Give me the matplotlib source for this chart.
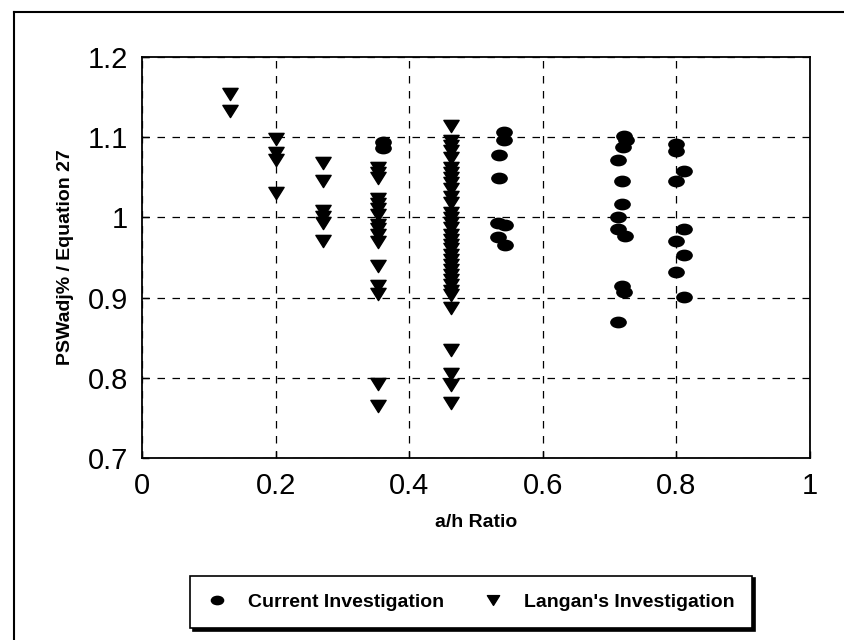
import numpy as np
import matplotlib
matplotlib.use('Agg')
import matplotlib.pyplot as plt
from matplotlib.path import Path
from matplotlib.transforms import Affine2D
from matplotlib.ticker import FuncFormatter
from matplotlib.lines import Line2D

plt.rcParams['font.family'] = ['Liberation Sans', 'DejaVu Sans']

# Langan's test series (a/h ratio, PSWadj% / Eq. 27)
langan_x = ([0.131] * 2 + [0.200] * 4 + [0.271] * 6 + [0.353] * 16
            + [0.462] * 34)
langan_y = [1.154, 1.133,
            1.098, 1.080, 1.071, 1.030,
            1.068, 1.045, 1.008, 1.000, 0.993, 0.970,
            1.062, 1.055, 1.049, 1.023, 1.017, 1.010, 1.003, 0.991,
            0.985, 0.978, 0.969, 0.939, 0.914, 0.904, 0.792, 0.765,
            1.114, 1.095, 1.089, 1.083, 1.074, 1.062, 1.055, 1.049,
            1.043, 1.035, 1.026, 1.018, 1.005, 0.999, 0.993, 0.987,
            0.978, 0.972, 0.966, 0.960, 0.953, 0.947, 0.941, 0.935,
            0.928, 0.922, 0.916, 0.908, 0.903, 0.887, 0.835, 0.805,
            0.791, 0.768]

# current test series
current_x = [0.361, 0.361,
             0.542, 0.542, 0.534, 0.534, 0.533, 0.544, 0.533, 0.544,
             0.721, 0.724, 0.720, 0.713, 0.718, 0.718, 0.713, 0.713,
             0.723, 0.718, 0.722, 0.713,
             0.800, 0.800, 0.811, 0.800, 0.811, 0.800, 0.811, 0.800,
             0.811]
current_y = [1.094, 1.086,
             1.106, 1.096, 1.078, 1.049, 0.993, 0.990, 0.976, 0.965,
             1.101, 1.096, 1.088, 1.071, 1.046, 1.017, 1.000, 0.985,
             0.977, 0.915, 0.907, 0.869,
             1.092, 1.083, 1.058, 1.045, 0.985, 0.970, 0.953, 0.932,
             0.901]

x_ticks = [0, 0.2, 0.4, 0.6, 0.8, 1.0]
y_ticks = [0.7, 0.8, 0.9, 1.0, 1.1, 1.2]

# flattened markers, wider than tall
dot = Path.unit_circle().transformed(Affine2D().scale(1.0, 0.68))
tri = Path([(-1, 0.8), (1, 0.8), (0, -0.8), (-1, 0.8)],
           [Path.MOVETO, Path.LINETO, Path.LINETO, Path.CLOSEPOLY])

W, H = 844, 640
fig = plt.figure(figsize=(W / 100, H / 100), dpi=100)
ax = fig.add_axes([142 / W, 1 - 458 / H, (810 - 142) / W, (458 - 57) / H])

ax.plot(current_x, current_y, linestyle='none', marker=dot, markersize=11,
        color='black', label='Current Investigation', zorder=3)
ax.plot(langan_x, langan_y, linestyle='none', marker=tri, markersize=11,
        color='black', label="Langan's Investigation", zorder=3)

ax.set_xlim(0, 1)
ax.set_ylim(0.7, 1.2)
ax.set_xticks(x_ticks)
ax.set_yticks(y_ticks)
fmt = FuncFormatter(lambda v, p: '%g' % round(v, 2))
ax.xaxis.set_major_formatter(fmt)
ax.yaxis.set_major_formatter(fmt)
ax.tick_params(direction='in', length=5, width=1, labelsize=21, pad=10)
ax.grid(True, color='black', linestyle=(0, (6, 6)), linewidth=0.9)
for s in ax.spines.values():
    s.set_linewidth(1.3)

ax.set_xlabel('a/h Ratio', fontsize=14, fontweight='bold', labelpad=10)
ax.set_ylabel('PSWadj% / Equation 27', fontsize=14, fontweight='bold',
              labelpad=10)

leg = fig.legend(loc='center', bbox_to_anchor=(471 / W, 1 - 602 / H), ncol=2,
                 fontsize=14, prop={'weight': 'bold', 'size': 14},
                 frameon=True, fancybox=False, edgecolor='black',
                 framealpha=1, shadow={'color': 'black', 'alpha': 1},
                 borderpad=0.9, handlelength=1.0, handletextpad=1.1,
                 columnspacing=2.0, markerscale=0.8, numpoints=1)
leg.get_frame().set_linewidth(1.2)

# outer frame of the figure
fig.add_artist(Line2D([14 / W, 14 / W], [0, 1 - 12 / H],
                      transform=fig.transFigure, color='black', lw=1.5))
fig.add_artist(Line2D([14 / W, 1], [1 - 12 / H, 1 - 12 / H],
                      transform=fig.transFigure, color='black', lw=1.5))

fig.savefig('out.png', dpi=100)
